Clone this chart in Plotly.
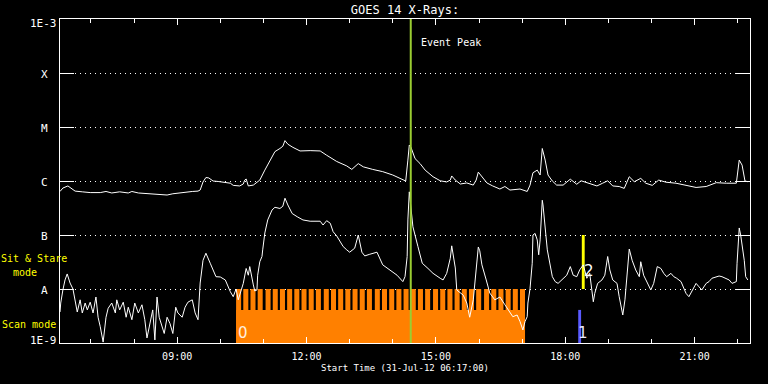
import math
import pandas as pd
import plotly.graph_objects as go

DAY = "2012-07-31 "

# GOES long channel (1-8 A), W/m^2
long_times = ["06:17","06:21","06:28","06:35","06:38","06:48","06:59","07:13","07:21","07:29",
              "07:40","07:52","07:57","08:06","08:22","08:32","08:46","08:54","09:01","09:07",
              "09:21","09:29","09:32","09:36","09:40","09:44","09:50","09:57","10:07","10:11",
              "10:14","10:18","10:27","10:32","10:34","10:36","10:39","10:46","10:52","10:55",
              "11:02","11:09","11:16","11:23","11:27","11:30","11:34","11:41","11:51","12:05",
              "12:19","12:28","12:42","12:56","13:03","13:12","13:19","13:32","13:46","14:00",
              "14:14","14:18","14:21","14:23","14:25","14:31","14:38","14:45","14:56","15:06",
              "15:15","15:20","15:22","15:27","15:34","15:43","15:52","15:56","15:59","16:04",
              "16:11","16:19","16:29","16:36","16:43","16:57","17:07","17:11","17:15","17:21",
              "17:25","17:28","17:32","17:36","17:42","17:48","17:57","18:07","18:16","18:22",
              "18:34","18:44","18:52","18:59","19:06","19:15","19:22","19:29","19:36","19:45",
              "19:52","20:01","20:10","20:20","20:34","20:48","21:02","21:16","21:30","21:44",
              "21:58","22:02","22:06","22:10","22:14"]
long_flux = [6.4e-7,7.4e-7,8.1e-7,6.8e-7,6.5e-7,6.3e-7,6.1e-7,6.1e-7,6.4e-7,6.0e-7,
             6.3e-7,6.0e-7,6.4e-7,6.0e-7,5.8e-7,5.6e-7,5.5e-7,5.8e-7,6.0e-7,6.1e-7,
             6.4e-7,6.5e-7,6.8e-7,9.6e-7,1.16e-6,1.14e-6,1.0e-6,9.8e-7,9.5e-7,9.2e-7,
             9.1e-7,8.3e-7,8.1e-7,8.8e-7,1.04e-6,1.09e-6,8.1e-7,8.4e-7,9.6e-7,1.04e-6,
             1.59e-6,2.44e-6,3.5e-6,4.0e-6,4.4e-6,5.6e-6,4.8e-6,4.2e-6,3.6e-6,3.65e-6,
             3.6e-6,3.0e-6,2.3e-6,1.9e-6,1.64e-6,2.1e-6,1.83e-6,1.64e-6,1.49e-6,1.29e-6,
             1.04e-6,1.0e-6,2.44e-6,4.64e-6,4.3e-6,2.6e-6,2.1e-6,1.59e-6,1.2e-6,1.01e-6,
             9.6e-7,1.04e-6,1.24e-6,1.04e-6,8.8e-7,9.2e-7,8.4e-7,1.04e-6,1.46e-6,1.19e-6,
             9.2e-7,8.1e-7,7.1e-7,7.9e-7,6.8e-7,7.1e-7,6.4e-7,8.4e-7,1.42e-6,1.59e-6,
             1.29e-6,4.0e-6,2.44e-6,1.29e-6,1.0e-6,8.4e-7,8.4e-7,1.08e-6,8.7e-7,1.01e-6,
             9.1e-7,8.1e-7,9.1e-7,1.01e-6,8.1e-7,7.9e-7,7.3e-7,1.2e-6,9.7e-7,1.12e-6,
             9.1e-7,8.3e-7,1.04e-6,9.5e-7,9.1e-7,8.3e-7,7.6e-7,7.9e-7,9.3e-7,9.1e-7,
             9.1e-7,2.44e-6,1.97e-6,1.0e-6,9.7e-7]

# GOES short channel (0.5-4 A), W/m^2
short_times = ["06:17","06:18","06:21","06:24","06:27","06:31","06:35","06:38","06:41","06:45",
               "06:48","06:52","06:55","06:59","07:03","07:07","07:10","07:13","07:17","07:21",
               "07:24","07:29","07:34","07:36","07:40","07:45","07:49","07:52","07:57","08:01",
               "08:06","08:11","08:15","08:18","08:22","08:26","08:29","08:32","08:35","08:39",
               "08:42","08:46","08:50","08:54","08:58","09:01","09:07","09:11","09:15","09:21",
               "09:25","09:29","09:32","09:36","09:40","09:46","09:54","10:00","10:07","10:14",
               "10:18","10:22","10:25","10:32","10:36","10:39","10:41","10:46","10:48","10:51",
               "10:52","10:55","10:58","10:59","11:02","11:06","11:12","11:16","11:23","11:27",
               "11:30","11:34","11:40","11:47","11:55","12:05","12:15","12:19","12:23","12:28",
               "12:33","12:37","12:42","12:47","12:51","12:56","13:00","13:07","13:12","13:17",
               "13:21","13:28","13:38","13:46","13:56","14:06","14:14","14:17","14:20","14:21",
               "14:23","14:25","14:28","14:35","14:41","14:49","14:56","15:06","15:10","15:15",
               "15:20","15:22","15:27","15:29","15:34","15:38","15:43","15:47","15:52","15:56",
               "15:59","16:01","16:04","16:10","16:15","16:22","16:29","16:36","16:43","16:47",
               "16:53","16:57","17:01","17:04","17:07","17:08","17:11","17:14","17:15","17:18",
               "17:21","17:23","17:25","17:28","17:29","17:32","17:35","17:42","17:46","17:50",
               "17:55","18:02","18:07","18:11","18:16","18:20","18:25","18:30","18:34","18:39",
               "18:41","18:45","18:51","18:55","18:59","19:02","19:06","19:12","19:15","19:17",
               "19:20","19:23","19:26","19:29","19:33","19:38","19:43","19:45","19:49","19:54",
               "19:59","20:03","20:08","20:13","20:17","20:21","20:27","20:31","20:35","20:41",
               "20:45","20:48","20:52","20:56","21:02","21:06","21:10","21:16","21:20","21:24",
               "21:30","21:34","21:38","21:44","21:48","21:52","21:58","21:59","22:02","22:04",
               "22:06","22:09","22:11","22:14"]
short_flux = [3.75e-9,5.5e-9,9.6e-9,1.47e-8,1.9e-8,1.29e-8,1.0e-8,6.3e-9,3.75e-9,6.3e-9,
              3.6e-9,5.5e-9,4.1e-9,5.7e-9,3.6e-9,7.1e-9,3.0e-9,2.0e-9,1.04e-9,3.0e-9,
              4.4e-9,5.5e-9,3.6e-9,6.3e-9,4.1e-9,5.7e-9,3.0e-9,4.6e-9,2.7e-9,5.5e-9,
              3.6e-9,5.1e-9,2.7e-9,1.24e-9,2.3e-9,4.1e-9,1.14e-9,7.1e-9,3.0e-9,2.0e-9,
              1.5e-9,3.0e-9,2.3e-9,1.5e-9,4.6e-9,3.6e-9,3.0e-9,4.6e-9,5.7e-9,6.3e-9,
              3.6e-9,2.7e-9,1.29e-8,3.4e-8,4.6e-8,3.0e-8,1.69e-8,1.67e-8,1.47e-8,8.9e-9,
              7.2e-9,1.0e-8,6.3e-9,1.27e-8,2.4e-8,1.8e-8,2.6e-8,1.19e-8,9.2e-9,9.6e-9,
              1.8e-8,3.2e-8,4.0e-8,5.3e-8,1.09e-7,1.9e-7,2.9e-7,3.26e-7,3.1e-7,3.4e-7,
              4.8e-7,3.6e-7,2.5e-7,2.18e-7,1.9e-7,1.8e-7,1.76e-7,1.8e-7,1.53e-7,1.84e-7,
              1.65e-7,1.15e-7,9.6e-8,7.5e-8,6.1e-8,5.3e-8,4.8e-8,5.7e-8,1.0e-7,4.8e-8,
              4.1e-8,4.4e-8,4.8e-8,2.8e-8,2.25e-8,1.8e-8,1.37e-8,1.69e-8,4.0e-8,1.9e-7,
              6.3e-7,3.6e-7,1.42e-7,6.1e-8,3.0e-8,2.4e-8,1.95e-8,1.58e-8,1.47e-8,1.95e-8,
              3.7e-8,6.3e-8,2.45e-8,9.6e-9,8.4e-9,7.7e-9,5.5e-9,3.0e-9,6.3e-9,2.25e-8,
              6.0e-8,5.1e-8,2.8e-8,1.47e-8,8.4e-9,6.3e-9,7.1e-9,5.1e-9,3.8e-9,3.07e-9,
              3.3e-9,2.5e-9,1.74e-9,2.5e-9,3.07e-9,5.5e-9,1.03e-8,3.0e-8,1.0e-7,1.07e-7,
              8.1e-8,4.3e-8,8.1e-8,4.4e-7,3.6e-7,1.53e-7,5.3e-8,1.69e-8,1.37e-8,1.27e-8,
              1.47e-8,1.8e-8,2.6e-8,1.8e-8,1.69e-8,2.25e-8,2.8e-8,1.58e-8,1.95e-8,5.8e-9,
              8.3e-9,1.27e-8,1.47e-8,1.8e-8,4.0e-8,2.25e-8,1.47e-8,1.27e-8,7.2e-9,5.1e-9,
              3.3e-9,6.3e-9,2.25e-8,5.5e-8,3.4e-8,2.25e-8,1.69e-8,3.2e-8,1.8e-8,1.27e-8,
              9.6e-9,1.27e-8,2.6e-8,2.4e-8,1.95e-8,1.69e-8,1.95e-8,1.69e-8,1.58e-8,1.37e-8,
              1.03e-8,8.3e-9,7.2e-9,8.9e-9,1.27e-8,1.1e-8,9.6e-9,1.27e-8,1.37e-8,1.58e-8,
              1.69e-8,1.74e-8,1.69e-8,1.58e-8,1.47e-8,1.27e-8,1.37e-8,3.0e-8,1.35e-7,1.0e-7,
              6.5e-8,3.4e-8,1.69e-8,1.47e-8]

# Axis definitions
x_range = ["06:17", "22:17"]
tick_labels = ["09:00", "12:00", "15:00", "18:00", "21:00"]
y_levels = [1e-9, 1e-8, 1e-7, 1e-6, 1e-5, 1e-4, 1e-3]
y_labels = ["1E-9", "A", "B", "C", "M", "X", "1E-3"]

# Event peak
event_peak = "14:25"

# Observation 0: scan mode rasters
scan_start, scan_end = "10:22", "17:04"
scan_floor = 4.1e-9
scan_top = 1e-8
raster_starts = ["10:22","10:32","10:42","10:52","11:03","11:13","11:23","11:33","11:43","11:53",
                 "12:03","12:13","12:24","12:34","12:44","12:54","13:04","13:14","13:24","13:35",
                 "13:45","13:55","14:05","14:15","14:25","14:35","14:45","14:56","15:06","15:16",
                 "15:26","15:36","15:46","15:56","16:07","16:17","16:27","16:37","16:47","16:57"]
raster_minutes = 7
# Observation 1: scan mode (blue), Observation 2: sit & stare (yellow)
obs1_start, obs1_minutes, obs1_top = "18:18", 4, 4.1e-9
obs2_start, obs2_minutes, obs2_base, obs2_top = "18:23", 4, 1e-8, 1e-7

BG = "black"
FG = "white"
ORANGE = "#FF8000"
BLUE = "#5A5AFF"
YELLOW = "#FFFF00"
GREEN = "#9ACD32"
FONT = "DejaVu Sans Mono"
MIN = 60000


def t(s):
    return DAY + s


fig = go.Figure()

# scan-mode block (lower solid band)
band_ms = (pd.Timestamp(t(scan_end)) - pd.Timestamp(t(scan_start))).total_seconds() * 1000
fig.add_trace(go.Bar(x=[t(scan_start)], y=[scan_floor - 1e-9], base=[1e-9], width=[band_ms],
                     offset=0, marker=dict(color=ORANGE, line=dict(width=0))))
# individual rasters
fig.add_trace(go.Bar(x=[t(s) for s in raster_starts], y=[scan_top - 1e-9] * len(raster_starts),
                     base=[1e-9] * len(raster_starts), width=[raster_minutes * MIN] * len(raster_starts),
                     offset=0, marker=dict(color=ORANGE, line=dict(width=0))))
fig.add_trace(go.Bar(x=[t(obs1_start)], y=[obs1_top - 1e-9], base=[1e-9], width=[obs1_minutes * MIN],
                     offset=0, marker=dict(color=BLUE, line=dict(width=0))))
fig.add_trace(go.Bar(x=[t(obs2_start)], y=[obs2_top - obs2_base], base=[obs2_base],
                     width=[obs2_minutes * MIN], offset=0, marker=dict(color=YELLOW, line=dict(width=0))))

fig.add_trace(go.Scatter(x=[t(s) for s in long_times], y=long_flux, mode="lines",
                         line=dict(color=FG, width=1)))
fig.add_trace(go.Scatter(x=[t(s) for s in short_times], y=short_flux, mode="lines",
                         line=dict(color=FG, width=1)))
fig.add_trace(go.Scatter(x=[t(event_peak), t(event_peak)], y=[y_levels[0], y_levels[-1]], mode="lines",
                         line=dict(color=GREEN, width=2)))

annotations = []
for val, lab in zip(y_levels, y_labels):
    if lab.startswith("1E"):
        annotations.append(dict(x=0, xref="paper", xanchor="right", xshift=-1,
                                y=math.log10(val), yref="y", yanchor="middle",
                                yshift=(-4 if val == y_levels[-1] else 3),
                                text=lab, showarrow=False, font=dict(family=FONT, size=11, color=FG)))
    else:
        annotations.append(dict(x=0, xref="paper", xanchor="center", xshift=-16,
                                y=math.log10(val), yref="y", yanchor="middle", yshift=-1,
                                text=lab, showarrow=False, font=dict(family=FONT, size=11, color=FG)))

for txt, xs, yp in [("Sit & Stare", -61, 0.2593), ("mode", -49, 0.2191), ("Scan mode", -60, 0.0586)]:
    annotations.append(dict(x=0, xref="paper", xanchor="left", xshift=xs, y=yp, yref="paper",
                            yanchor="middle", text=txt, showarrow=False,
                            font=dict(family=FONT, size=10, color=YELLOW)))

annotations.append(dict(x=t(event_peak), xref="x", xanchor="left", xshift=8, y=0.9275, yref="paper",
                        yanchor="middle", text="Event Peak", showarrow=False,
                        font=dict(family=FONT, size=10, color=FG)))

for txt, xs, yp, col in [("0", 0, 0.0324, "#FFF0E0"), ("1", -2, 0.0309, "#E8E8FF"), ("2", 0, 0.222, FG)]:
    xt = {"0": scan_start, "1": obs1_start, "2": obs2_start}[txt]
    annotations.append(dict(x=t(xt), xref="x", xanchor="left", xshift=xs, y=yp, yref="paper",
                            yanchor="middle", text=txt, showarrow=False,
                            font=dict(family="DejaVu Sans", size=15, color=col)))

fig.update_layout(
    width=768, height=384,
    paper_bgcolor=BG, plot_bgcolor=BG,
    margin=dict(l=60, r=18, t=19, b=41),
    showlegend=False, barmode="overlay",
    font=dict(family=FONT, color=FG, size=10),
    title=dict(text="GOES 14 X-Rays:", x=0.5, xref="paper", xanchor="center",
               y=1 - 9.5 / 384, yanchor="middle", font=dict(family=FONT, size=12, color=FG)),
    annotations=annotations,
)
fig.update_xaxes(
    type="date", range=[t(x_range[0]), t(x_range[1])],
    tickvals=[t(s) for s in tick_labels], ticktext=tick_labels,
    ticks="inside", ticklen=6, tickwidth=1, tickcolor=FG,
    showline=True, linecolor=FG, linewidth=1, mirror="ticks",
    showgrid=False, zeroline=False, automargin=False,
    tickfont=dict(family=FONT, size=10, color=FG), ticklabelstandoff=4,
    minor=dict(dtick=3600000, tick0=t("00:00"), ticks="inside", ticklen=4, tickcolor=FG, showgrid=False),
    title=dict(text="Start Time (31-Jul-12 06:17:00)", standoff=3, font=dict(family=FONT, size=9, color=FG)),
)
fig.update_yaxes(
    type="log", range=[-9, -3], tickvals=y_levels, showticklabels=False,
    ticks="inside", ticklen=14, tickwidth=1, tickcolor=FG,
    showline=True, linecolor=FG, linewidth=1, mirror="ticks",
    showgrid=True, gridcolor=FG, gridwidth=1, griddash="1px,4px",
    zeroline=False, automargin=False,
)

fig.write_html("out.html", config={"displayModeBar": False},
               post_script="document.body.style.margin='0';document.body.style.background='black';")
